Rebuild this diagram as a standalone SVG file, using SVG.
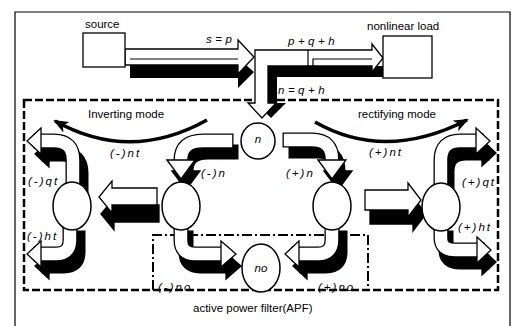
<svg xmlns="http://www.w3.org/2000/svg" width="520" height="326" viewBox="0 0 520 326">
<defs>
<style>
.t{font-family:"Liberation Sans",Arial,sans-serif;font-size:11.5px;fill:#000}
.i{font-style:italic;letter-spacing:2px}
.eq{font-style:italic;letter-spacing:3.5px}
.box{fill:#fff;stroke:#000;stroke-width:1.3}
.circ{fill:#fff;stroke:#000;stroke-width:1.5}
.sh{fill:none;stroke:#000;stroke-width:15;stroke-linecap:square}
.ol{fill:none;stroke:#000;stroke-width:15;stroke-linecap:square}
.wf{fill:none;stroke:#fff;stroke-width:12.4;stroke-linecap:square}
.hs{fill:#000;stroke:#000;stroke-width:1.3}
.hf{fill:#fff;stroke:#000;stroke-width:1.3}
.face{fill:#fff;stroke:#000;stroke-width:1.3}
.blk{fill:#000}
.ln{fill:none;stroke:#000;stroke-width:1.2}
.mode{fill:none;stroke:#000;stroke-width:3.5;marker-end:url(#ah)}
.dash{fill:none;stroke:#000;stroke-width:2.5;stroke-dasharray:8 3}
.dd{fill:none;stroke:#000;stroke-width:2;stroke-dasharray:10 3 2 3}
.frame{fill:none;stroke:#000;stroke-width:1.2}
</style>
<marker id="ah" markerWidth="15" markerHeight="12" refX="13" refY="6" orient="auto" markerUnits="userSpaceOnUse">
<path d="M0,0 L15,6 L0,12 L4,6 Z" fill="#000"/>
</marker>
<path id="pA" d="M73 186 L73 160 Q73 141 54 141 L41 141"/>
<polygon id="hA" points="41,128 27,141 41,154"/>
<path id="pB" d="M226 141 L203 141 Q181 141 181 160"/>
<polygon id="hB" points="167,160 181,179 195,160"/>
<path id="pC" d="M290 140 L312 140 Q332 140 332 160"/>
<polygon id="hC" points="318,160 332,179 346,160"/>
<path id="pD" d="M441 186 L441 160 Q441 141 460 141 L476 141"/>
<polygon id="hD" points="476,128 490,141 476,154"/>
<path id="pE" d="M70 226 L70 240 Q70 254 56 254 L41 254"/>
<polygon id="hE" points="41,241 27,254 41,267"/>
<path id="pF" d="M441 226 L441 238 Q441 250 455 250 L477 250"/>
<polygon id="hF" points="477,237 491,250 477,263"/>
<path id="pG" d="M181 226 L181 240 Q181 254 195 254 L221 254"/>
<polygon id="hG" points="221,241 236,254 221,267"/>
<path id="pH" d="M332 226 L332 240 Q332 254 318 254 L299 254"/>
<polygon id="hH" points="299,241 285,254 299,267"/>
<polygon id="aNT1" points="157,188 112,188 112,181 99,197 112,213 112,205 157,205"/>
<polygon id="aNT2" points="365,190 408,190 408,183 421,200 408,217 408,210 365,210"/>
</defs>

<path class="frame" d="M15,326 V12 H510 V326"/>

<g id="apf-region">
<rect class="dash" x="24" y="100" width="474" height="190"/>
<path class="dd" d="M153,290 V235 H368 V290"/>
</g>

<g id="connectors">
<path class="blk" d="M130 65 L238 65 L238 58 L254 72 L238 88 L238 78 L130 78 Z"/>
<path class="face" d="M125 49 L238 49 L238 40 L254 57 L238 74 L238 65 L125 65 Z"/>
<path class="ln" d="M130 59 H238"/>
<rect class="blk" x="268" y="66" width="115" height="11"/>
<rect class="blk" x="268" y="66" width="9" height="37"/>
<polygon class="blk" points="256,103 286,103 271,118"/>
<path class="face" d="M255 50 L372 50 L372 44 L383 58 L372 72 L372 66 L268 66 L268 103 L276 103 L262 118 L248 103 L255 103 Z"/>
<path class="ln" d="M308 50 V66 M313 66 V59 H372"/>
<path class="mode" d="M207 120 Q130 163 55 121"/>
<path class="mode" d="M315 122 Q385 162 467 120"/>
<g id="arrow-mqt">
<use href="#pA" class="sh" transform="translate(8,13)"/>
<use href="#hA" class="hs" transform="translate(8,13)"/>
<use href="#pA" class="ol"/><use href="#pA" class="wf"/><use href="#hA" class="hf"/>
</g>
<g id="arrow-mn">
<use href="#pB" class="sh" transform="translate(5,11)"/>
<use href="#hB" class="hs" transform="translate(5,11)"/>
<use href="#pB" class="ol"/><use href="#pB" class="wf"/><use href="#hB" class="hf"/>
</g>
<g id="arrow-pn">
<use href="#pC" class="sh" transform="translate(6,11)"/>
<use href="#hC" class="hs" transform="translate(6,11)"/>
<use href="#pC" class="ol"/><use href="#pC" class="wf"/><use href="#hC" class="hf"/>
</g>
<g id="arrow-pqt">
<use href="#pD" class="sh" transform="translate(6,12)"/>
<use href="#hD" class="hs" transform="translate(6,12)"/>
<use href="#pD" class="ol"/><use href="#pD" class="wf"/><use href="#hD" class="hf"/>
</g>
<g id="arrow-mht">
<use href="#pE" class="sh" transform="translate(8,12)"/>
<use href="#hE" class="hs" transform="translate(8,12)"/>
<use href="#pE" class="ol"/><use href="#pE" class="wf"/><use href="#hE" class="hf"/>
</g>
<g id="arrow-pht">
<use href="#pF" class="sh" transform="translate(5,12)"/>
<use href="#hF" class="hs" transform="translate(5,12)"/>
<use href="#pF" class="ol"/><use href="#pF" class="wf"/><use href="#hF" class="hf"/>
</g>
<g id="arrow-mno">
<use href="#pG" class="sh" transform="translate(5,12)"/>
<use href="#hG" class="hs" transform="translate(5,12)"/>
<use href="#pG" class="ol"/><use href="#pG" class="wf"/><use href="#hG" class="hf"/>
</g>
<g id="arrow-pno">
<use href="#pH" class="sh" transform="translate(8,12)"/>
<use href="#hH" class="hs" transform="translate(8,12)"/>
<use href="#pH" class="ol"/><use href="#pH" class="wf"/><use href="#hH" class="hf"/>
</g>
<g id="arrow-mnt">
<use href="#aNT1" class="hs" transform="translate(2,17)"/>
<use href="#aNT1" class="hf"/>
</g>
<g id="arrow-pnt">
<use href="#aNT2" class="hs" transform="translate(5,14)"/>
<use href="#aNT2" class="hf"/>
</g>
</g>

<g id="node-source">
<rect class="box" x="83" y="33" width="42" height="34"/>
<text class="t" x="85" y="28">source</text>
</g>
<g id="node-load">
<rect class="box" x="383" y="36" width="49" height="42"/>
<text class="t" x="367" y="30">nonlinear load</text>
</g>
<g id="node-n">
<ellipse class="circ" cx="258" cy="141" rx="17" ry="18"/>
<text class="t" x="258" y="143" text-anchor="middle" font-style="italic">n</text>
</g>
<g id="node-left">
<ellipse class="circ" cx="72" cy="206" rx="19" ry="24"/>
</g>
<g id="node-midleft">
<ellipse class="circ" cx="181" cy="206" rx="19" ry="24"/>
</g>
<g id="node-midright">
<ellipse class="circ" cx="332" cy="206" rx="19" ry="24"/>
</g>
<g id="node-right">
<ellipse class="circ" cx="441" cy="207" rx="19" ry="24"/>
</g>
<g id="node-no">
<ellipse class="circ" cx="261" cy="268" rx="19" ry="24"/>
<text class="t" x="261" y="272" text-anchor="middle" font-style="italic">no</text>
</g>

<g id="labels">
<text class="t eq" x="206" y="43">s=p</text>
<text class="t eq" x="288" y="45">p+q+h</text>
<text class="t eq" x="278" y="94">n=q+h</text>
<text class="t" x="88" y="118">Inverting mode</text>
<text class="t" x="358" y="118">rectifying mode</text>
<text class="t i" x="28" y="185">(-)qt</text>
<text class="t i" x="110" y="157">(-)nt</text>
<text class="t i" x="201" y="177">(-)n</text>
<text class="t i" x="286" y="177">(+)n</text>
<text class="t i" x="369" y="156">(+)nt</text>
<text class="t i" x="462" y="186">(+)qt</text>
<text class="t i" x="27" y="240">(-)ht</text>
<text class="t i" x="458" y="231">(+)ht</text>
<text class="t i" x="158" y="291">(-)no</text>
<text class="t i" x="318" y="291">(+)no</text>
<text class="t" x="193" y="312">active power filter(APF)</text>
</g>
</svg>
